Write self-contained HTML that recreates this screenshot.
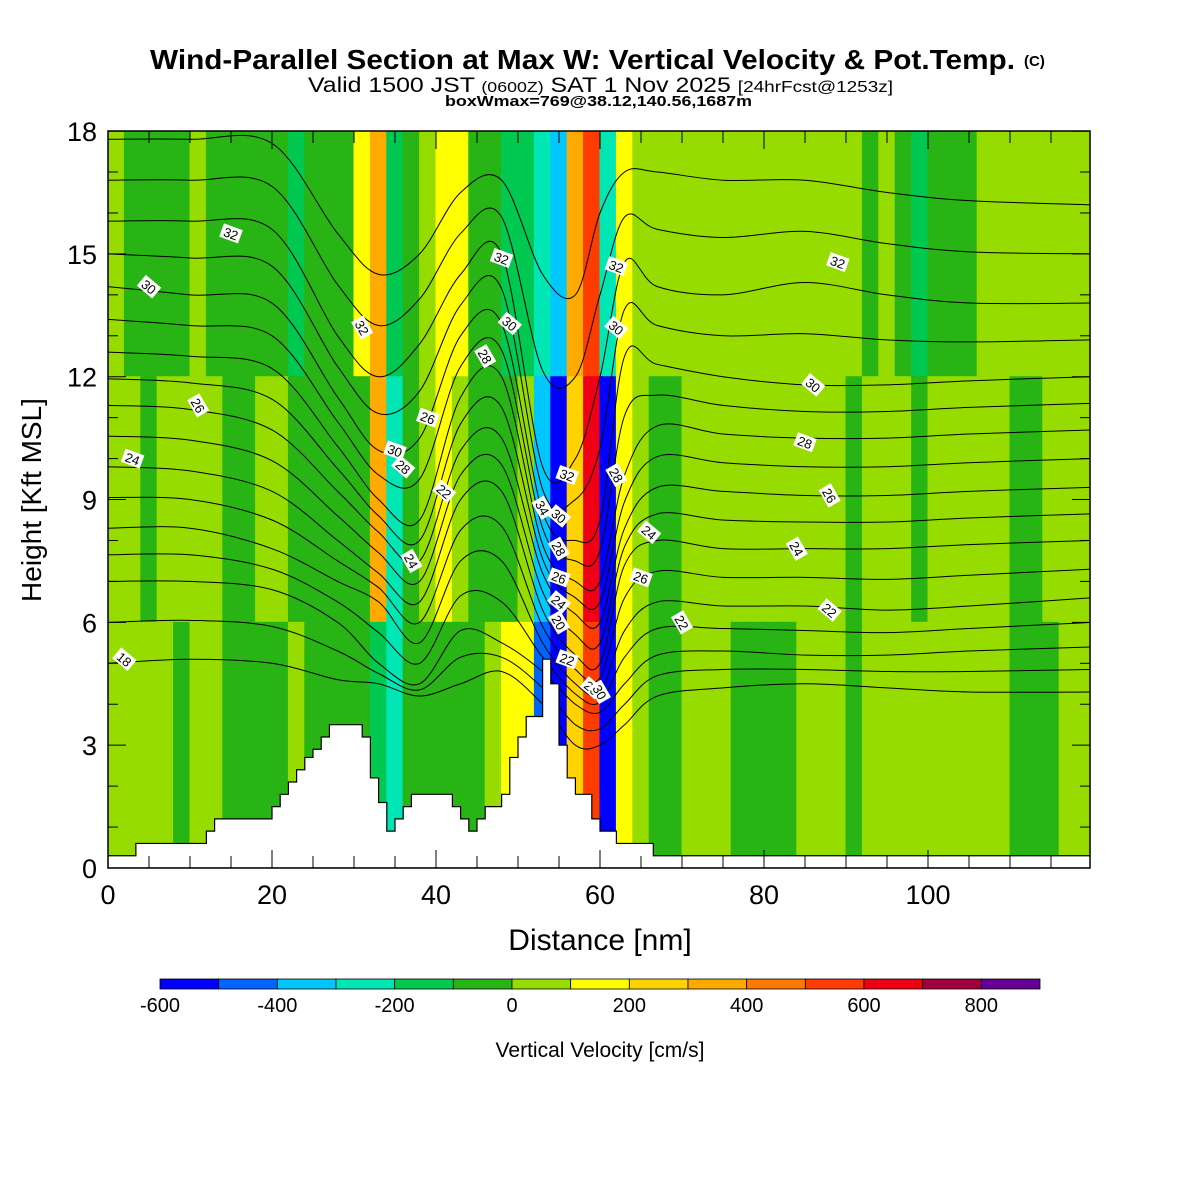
<!DOCTYPE html>
<html><head><meta charset="utf-8"><style>
body{margin:0;background:#fff;}
svg{display:block;font-family:"Liberation Sans",Arial,sans-serif;}
</style></head><body>
<svg id="c" width="1200" height="1200" viewBox="0 0 1200 1200">
<text x="150" y="69" font-size="28" font-weight="bold" textLength="865" lengthAdjust="spacingAndGlyphs">Wind-Parallel Section at Max W: Vertical Velocity &amp; Pot.Temp.</text>
<text x="1024" y="66" font-size="15" font-weight="bold">(C)</text>
<text x="308" y="92" font-size="21" textLength="585" lengthAdjust="spacingAndGlyphs">Valid 1500 JST <tspan font-size="15">(0600Z)</tspan> SAT 1 Nov 2025 <tspan font-size="16">[24hrFcst@1253z]</tspan></text>
<text x="445" y="106" font-size="15" font-weight="bold" textLength="307" lengthAdjust="spacingAndGlyphs">boxWmax=769@38.12,140.56,1687m</text>
<defs><clipPath id="pc"><rect x="108" y="131" width="982" height="737"/></clipPath></defs>
<g id="field" clip-path="url(#pc)"></g>
<g id="theta" clip-path="url(#pc)"></g>
<g id="terr" clip-path="url(#pc)"></g>
<g id="clab"></g>
<rect x="108" y="131" width="982" height="737" fill="none" stroke="#000" stroke-width="1.5"/>
<g id="axes"></g>
<text x="600" y="950" text-anchor="middle" font-size="30">Distance [nm]</text>
<text transform="translate(41,500) rotate(-90)" text-anchor="middle" font-size="28">Height [Kft MSL]</text>
<g id="cbar"></g>
<text x="600" y="1057" text-anchor="middle" font-size="21">Vertical Velocity [cm/s]</text>
</svg>
<script>
const NS="http://www.w3.org/2000/svg";
const binEdges=[-600,-500,-400,-300,-200,-100,0,100,200,300,400,500,600,700,800,900];
const binColors=["#0000ff","#0064ff","#00c8ff","#00e6b4","#00c850","#28b414","#96dc00","#ffff00","#ffd200","#ffaa00","#ff7800","#ff3c00","#f00014","#a0003c","#640096"];
const cbTicks=[-600,-400,-200,0,200,400,600,800];
const wUpper=[50,-50,-50,-50,-50,50,-50,-50,-50,-50,-50,-150,-50,-50,-50,150,350,-150,-50,50,150,150,-50,-50,-150,-150,-250,-350,350,550,-250,150,50,50,50,50,50,50,50,50,50,50,50,50,50,50,-50,50,-50,-150,-50,-50,-50,50,50,50,50,50,50,50];
const wMiddle=[50,50,-50,50,50,50,50,-50,-50,50,50,-50,-50,-50,-50,-50,350,-250,-50,50,150,50,-50,-50,-50,50,-350,-550,250,650,-550,150,50,-50,-50,50,50,50,50,50,50,50,50,50,50,-50,50,50,50,-50,50,50,50,50,50,-50,-50,50,50,50];
const wLower=[50,50,50,50,-50,50,50,-50,-50,-50,-50,50,-50,-50,-50,-50,-150,-250,-50,-50,-50,-50,-50,50,150,150,-450,-550,250,550,-550,150,50,-50,-50,50,50,50,-50,-50,-50,-50,50,50,50,-50,50,50,50,50,50,50,50,50,50,-50,-50,-50,50,50];
const layerTops=[18,12,6]; const layerBots=[12,6,0];
const terrX=[0,3.4,12,13,20,21,22,23,24,25,26,27,31,32,33,34,35,36,37,38,42,43,44,45,46,48,49,50,51,53,54,55,56,57,59,60,62,66,66.5,120];
const terrH=[0.3,0.6,0.9,1.2,1.5,1.8,2.1,2.4,2.7,2.9,3.2,3.5,3.2,2.2,1.6,0.9,1.2,1.5,1.8,1.8,1.5,1.2,0.9,1.2,1.5,1.8,2.7,3.2,3.7,5.1,4.5,3.0,2.2,1.8,1.2,0.9,0.6,0.6,0.3,0.3];
const thX=[0,10,20,28,33,38,43,48,53,57,60,63,67,75,85,95,105,120];
const thLevels=[18,20,22,24,26,28,30,32,34];
const th18=[5.0,5.1,5.0,4.6,4.5,4.2,4.5,4.8,4.0,3.0,3.0,3.5,4.2,4.4,4.5,4.4,4.3,4.3];
const th20=[7.0,7.0,6.8,6.0,5.0,4.5,5.8,5.5,4.8,4.0,3.8,4.5,5.2,5.3,5.2,5.2,5.3,5.4];
const th22=[8.3,8.3,7.8,7.0,6.5,5.5,7.5,7.5,5.5,4.5,4.3,5.8,6.5,6.4,6.4,6.3,6.4,6.6];
const th24=[9.8,9.7,9.2,8.0,7.2,6.5,9.0,9.2,6.3,5.2,5.0,7.4,8.0,7.8,7.8,7.8,7.9,8.0];
const th26=[11.3,11.2,10.7,9.2,8.2,7.5,10.2,10.5,7.2,6.2,6.0,8.3,9.3,9.2,9.1,9.1,9.2,9.3];
const th28=[12.6,12.5,12.2,10.3,9.0,8.5,11.5,12.0,7.9,7.0,7.0,9.6,10.8,10.6,10.5,10.5,10.6,10.7];
const th30=[14.2,14.0,13.8,11.5,10.2,10.5,13.0,13.3,8.7,8.0,8.5,12.5,12.3,12.0,11.8,11.8,11.9,12.0];
const th32=[15.8,15.8,15.6,13.0,12.0,12.8,14.5,15.0,9.8,10.0,12.0,14.8,14.2,14.0,14.3,14.0,13.8,13.8];
const th34=[17.8,17.8,17.7,15.5,14.5,15.0,16.5,16.8,14.5,14.0,16.0,17.0,17.0,16.8,16.8,16.5,16.3,16.2];
const thRows=[th18,th20,th22,th24,th26,th28,th30,th32,th34];
const labX=[15,5,11,3,2,31,35,36,37,39,41,46,48,49,53,56,55,55,55,55,55,56,59,60,62,62,62,65,66,84,85,86,88,89,88,70];
const labH=[15.5,14.2,11.3,10.0,5.1,13.2,10.2,9.8,7.5,11.0,9.2,12.5,14.9,13.3,8.8,9.6,8.6,7.8,7.1,6.5,6.0,5.1,4.4,4.3,14.7,13.2,9.6,7.1,8.2,7.8,10.4,11.8,9.1,14.8,6.3,6.0];
const labT=["32","30","26","24","18","32","30","28","24","26","22","28","32","30","34","32","30","28","26","24","20","22","20","30","32","30","28","26","24","24","28","30","26","32","22","22"];
const X=v=>108+v*8.2, Y=v=>868-v*40.94;
function colorOf(w){for(let i=0;i<binColors.length;i++){if(w<binEdges[i+1])return binColors[i];}return binColors[binColors.length-1];}
function mk(tag,attrs,parent){const e=document.createElementNS(NS,tag);for(const k in attrs)e.setAttribute(k,attrs[k]);parent.appendChild(e);return e;}
const field=document.getElementById('field');
[wUpper,wMiddle,wLower].forEach((arr,L)=>{arr.forEach((w,i)=>{
  const r=mk('rect',{x:X(2*i)-0.5,y:Y(layerTops[L])-0.5,width:8.2*2+1,height:(layerTops[L]-layerBots[L])*40.94+1,fill:colorOf(w)},field);
  
  
});});
const theta=document.getElementById('theta');
function path(xs,hs){const p=xs.map((x,i)=>[X(x),Y(hs[i])]);let d=`M${p[0][0]},${p[0][1]}`;
 for(let i=0;i<p.length-1;i++){const p0=p[Math.max(0,i-1)],p1=p[i],p2=p[i+1],p3=p[Math.min(p.length-1,i+2)];
 d+=` C${p1[0]+(p2[0]-p0[0])/6},${p1[1]+(p2[1]-p0[1])/6} ${p2[0]-(p3[0]-p1[0])/6},${p2[1]-(p3[1]-p1[1])/6} ${p2[0]},${p2[1]}`;}return d;}
thRows.forEach((row,k)=>{
  const e=mk('path',{d:path(thX,row),fill:'none',stroke:'#000','stroke-width':1},theta);
  
  
  if(k<thRows.length-1){const nx=thRows[k+1];const mid=row.map((v,i)=>(v+nx[i])/2);
   const m=mk('path',{d:path(thX,mid),fill:'none',stroke:'#000','stroke-width':1},theta);
   
   }
});
const terr=document.getElementById('terr');
let td=`M${X(0)},${Y(0)}`;
terrX.forEach((x,i)=>{const nx=i<terrX.length-1?terrX[i+1]:120;td+=` L${X(x)},${Y(terrH[i])} L${X(nx)},${Y(terrH[i])}`;});
td+=` L${X(120)},${Y(0)} Z`;
const tp=mk('path',{d:td,fill:'#fff',stroke:'#000','stroke-width':1.2},terr);


const clab=document.getElementById('clab');
labX.forEach((x,i)=>{const g=mk('g',{transform:`translate(${X(x)},${Y(labH[i])}) rotate(${(i%3)*20+20})`},clab);
 
 
 mk('rect',{x:-10,y:-7,width:20,height:14,fill:'#fff'},g);
 const t=mk('text',{x:0,y:5,'text-anchor':'middle','font-size':13},g);t.textContent=labT[i];});
const axes=document.getElementById('axes');
for(let n=0;n<=119;n+=5){const big=n%20===0;const L=big?18:12;
 mk('line',{x1:X(n),x2:X(n),y1:868,y2:868-L,stroke:'#000'},axes);
 mk('line',{x1:X(n),x2:X(n),y1:131,y2:131+L,stroke:'#000'},axes);
 if(big){const t=mk('text',{x:X(n),y:904,'text-anchor':'middle','font-size':27},axes);t.textContent=n;
 
 }}
for(let h=0;h<=18;h++){const big=h%3===0;const L=big?18:10;
 mk('line',{x1:108,x2:108+L,y1:Y(h),y2:Y(h),stroke:'#000'},axes);
 mk('line',{x1:1090,x2:1090-L,y1:Y(h),y2:Y(h),stroke:'#000'},axes);
 if(big){const t=mk('text',{x:97,y:Y(h)+10,'text-anchor':'end','font-size':27},axes);t.textContent=h;
 
 }}
const cb=document.getElementById('cbar');const cw=880/binColors.length;
binColors.forEach((c,i)=>{const r=mk('rect',{x:160+i*cw,y:979,width:cw,height:10,fill:c,stroke:'#000','stroke-width':0.8},cb);
 
 });
cbTicks.forEach(v=>{const t=mk('text',{x:160+(v+600)/100*cw,y:1012,'text-anchor':'middle','font-size':20},cb);t.textContent=v;
 
 });
</script>
</body></html>
